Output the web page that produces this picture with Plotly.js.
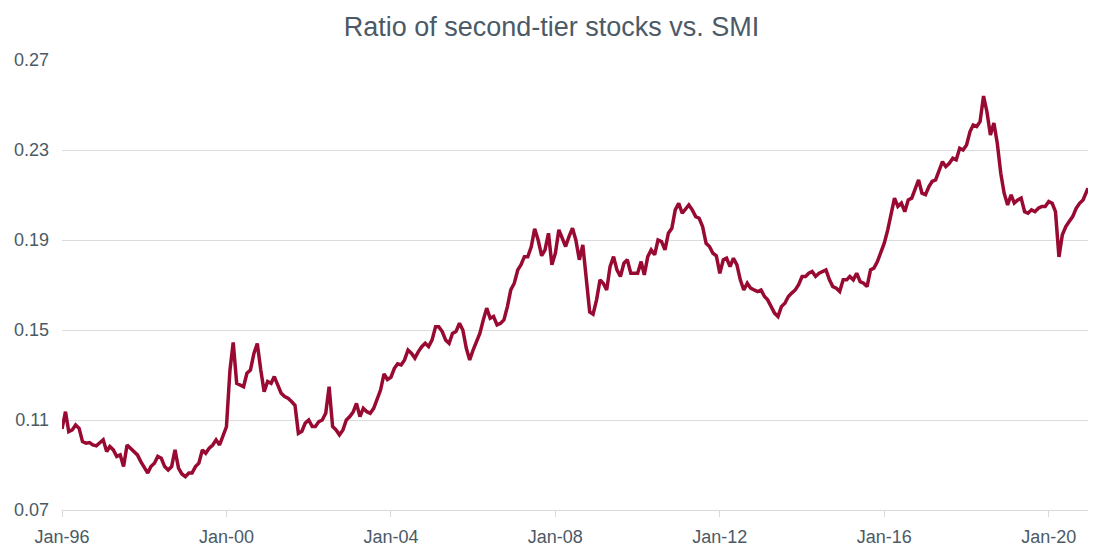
<!DOCTYPE html>
<html>
<head>
<meta charset="utf-8">
<script src="https://cdn.plot.ly/plotly-3.0.1.min.js"></script>
<style>
  html, body { margin: 0; padding: 0; background: #ffffff; }
  #chart { width: 1103px; height: 553px; }
</style>
</head>
<body>
<div id="chart"></div>
<script>
// Monthly readings (first trading day of each month), ratio of second-tier stocks vs. SMI
const years = [1996,1997,1998,1999,2000,2001,2002,2003,2004,2005,2006,2007,2008,2009,2010,2011,2012,2013,2014,2015,2016,2017,2018,2019,2020];
const v1996 = [0.1060,0.1137,0.1048,0.1056,0.1078,0.1063,0.1004,0.0997,0.1000,0.0989,0.0985,0.0997];
const v1997 = [0.1012,0.0960,0.0982,0.0967,0.0938,0.0945,0.0893,0.0989,0.0975,0.0960,0.0945,0.0915];
const v1998 = [0.0886,0.0864,0.0893,0.0908,0.0938,0.0930,0.0893,0.0878,0.0893,0.0967,0.0886,0.0860];
const v1999 = [0.0848,0.0864,0.0864,0.0893,0.0908,0.0967,0.0952,0.0975,0.0989,0.1012,0.0989,0.1026];
const v2000 = [0.1070,0.1320,0.1445,0.1263,0.1256,0.1248,0.1308,0.1322,0.1396,0.1440,0.1322,0.1226];
const v2001 = [0.1271,0.1263,0.1293,0.1256,0.1219,0.1204,0.1197,0.1182,0.1165,0.1041,0.1050,0.1086];
const v2002 = [0.1100,0.1071,0.1071,0.1093,0.1100,0.1130,0.1248,0.1071,0.1056,0.1034,0.1056,0.1100];
const v2003 = [0.1115,0.1137,0.1174,0.1115,0.1152,0.1137,0.1130,0.1152,0.1189,0.1233,0.1305,0.1280];
const v2004 = [0.1290,0.1330,0.1350,0.1345,0.1367,0.1411,0.1397,0.1375,0.1404,0.1426,0.1441,0.1426];
const v2005 = [0.1456,0.1515,0.1515,0.1493,0.1456,0.1441,0.1485,0.1493,0.1530,0.1500,0.1419,0.1367];
const v2006 = [0.1412,0.1456,0.1485,0.1545,0.1597,0.1552,0.1560,0.1523,0.1530,0.1545,0.1604,0.1678];
const v2007 = [0.1708,0.1767,0.1789,0.1826,0.1826,0.1870,0.1950,0.1900,0.1830,0.1856,0.1930,0.1790];
const v2008 = [0.1841,0.1945,0.1908,0.1871,0.1915,0.1952,0.1900,0.1812,0.1878,0.1723,0.1580,0.1570];
const v2009 = [0.1634,0.1723,0.1708,0.1678,0.1782,0.1826,0.1767,0.1738,0.1797,0.1812,0.1752,0.1752];
const v2010 = [0.1752,0.1804,0.1745,0.1826,0.1856,0.1834,0.1900,0.1893,0.1856,0.1930,0.1952,0.2034];
const v2011 = [0.2063,0.2019,0.2034,0.2056,0.2034,0.2004,0.1997,0.1960,0.1885,0.1871,0.1841,0.1830];
const v2012 = [0.1752,0.1812,0.1819,0.1782,0.1819,0.1789,0.1723,0.1678,0.1708,0.1686,0.1678,0.1671];
const v2013 = [0.1678,0.1649,0.1634,0.1604,0.1575,0.1560,0.1604,0.1619,0.1649,0.1664,0.1678,0.1701];
const v2014 = [0.1738,0.1738,0.1752,0.1760,0.1738,0.1752,0.1760,0.1767,0.1723,0.1693,0.1686,0.1671];
const v2015 = [0.1723,0.1723,0.1738,0.1723,0.1752,0.1715,0.1708,0.1693,0.1767,0.1775,0.1804,0.1841];
const v2016 = [0.1886,0.1945,0.2019,0.2086,0.2049,0.2064,0.2026,0.2078,0.2086,0.2123,0.2167,0.2108];
const v2017 = [0.2101,0.2138,0.2160,0.2167,0.2212,0.2248,0.2226,0.2241,0.2263,0.2256,0.2308,0.2300];
const v2018 = [0.2322,0.2382,0.2411,0.2404,0.2426,0.2540,0.2470,0.2367,0.2420,0.2330,0.2197,0.2108];
const v2019 = [0.2056,0.2101,0.2064,0.2078,0.2086,0.2026,0.2019,0.2034,0.2026,0.2041,0.2049,0.2049];
const v2020 = [0.2071,0.2063,0.2026,0.1825,0.1923,0.1960,0.1982,0.2004,0.2041,0.2063,0.2078,0.2115];
const lastDate = '2020-12-15';
const lastValue = 0.2130;

const yTickVals = [0.07, 0.11, 0.15, 0.19, 0.23, 0.27];

const series = [v1996,v1997,v1998,v1999,v2000,v2001,v2002,v2003,v2004,v2005,v2006,v2007,v2008,v2009,v2010,v2011,v2012,v2013,v2014,v2015,v2016,v2017,v2018,v2019,v2020];
const xs = [], ys = [];
years.forEach((yr, i) => {
  series[i].forEach((val, m) => {
    xs.push(yr + '-' + String(m + 1).padStart(2, '0') + '-01');
    ys.push(val);
  });
});
xs.push(lastDate); ys.push(lastValue);

const textColor = '#4b5a66';
const fontFam = '"Liberation Sans", Arial, sans-serif';

Plotly.newPlot('chart', [{
  x: xs, y: ys, type: 'scatter', mode: 'lines',
  line: { color: '#990a32', width: 3.5 },
  hoverinfo: 'x+y'
}], {
  width: 1103, height: 553,
  margin: { l: 62, r: 15, t: 60, b: 43 },
  paper_bgcolor: '#ffffff', plot_bgcolor: '#ffffff',
  showlegend: false,
  title: { text: 'Ratio of second-tier stocks vs. SMI', x: 0.5, xanchor: 'center', y: 0.952, yanchor: 'middle',
           font: { family: fontFam, size: 27, color: textColor } },
  xaxis: {
    type: 'date', range: ['1996-01-01', lastDate],
    tick0: '1996-01-01', dtick: 'M48', tickformat: '%b-%y',
    showgrid: false, zeroline: false,
    showline: true, linecolor: '#d9d9d9', linewidth: 1,
    ticks: 'outside', ticklen: 6, tickcolor: '#d9d9d9', tickwidth: 1,
    ticklabelstandoff: 4,
    tickfont: { family: fontFam, size: 18, color: textColor }
  },
  yaxis: {
    range: [0.07, 0.27], tickvals: yTickVals, tickformat: '.2f',
    showgrid: true, gridcolor: '#dcdcdc', gridwidth: 1,
    zeroline: false, showline: false, ticks: '',
    ticklabelstandoff: 12,
    tickfont: { family: fontFam, size: 18, color: textColor }
  }
}, { displayModeBar: false, staticPlot: true });
</script>
</body>
</html>
